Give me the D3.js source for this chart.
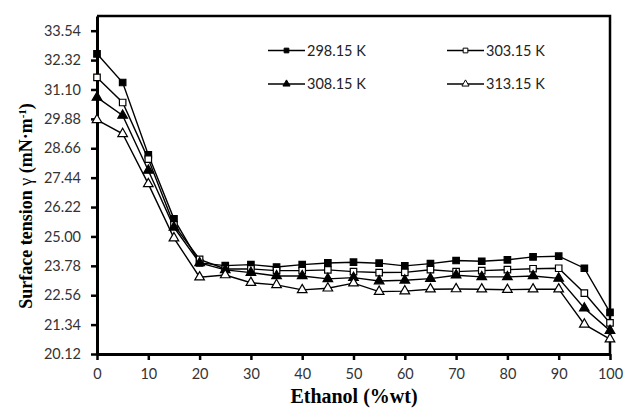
<!DOCTYPE html>
<html>
<head>
<meta charset="utf-8">
<script src="https://cdn.jsdelivr.net/npm/d3@7"></script>
<style>
  body { margin: 0; background: #fff; }
  svg { display: block; }
</style>
</head>
<body>
<svg id="chart" width="626" height="410"></svg>
<script>
// ethanol mass fraction (%wt)
const ethanol = [0, 5, 10, 15, 20, 25, 30, 35, 40, 45, 50, 55, 60, 65, 70, 75, 80, 85, 90, 95, 100];

// surface tension (mN/m)
const t29815 = [32.58, 31.39, 28.39, 25.73, 23.90, 23.79, 23.83, 23.73, 23.83, 23.90, 23.93, 23.89, 23.78, 23.87, 24.00, 23.97, 24.03, 24.15, 24.18, 23.68, 21.85];
const t30315 = [31.60, 30.56, 28.21, 25.48, 24.05, 23.65, 23.65, 23.58, 23.58, 23.61, 23.54, 23.50, 23.51, 23.62, 23.54, 23.58, 23.62, 23.66, 23.68, 22.65, 21.41];
const t30815 = [30.77, 30.02, 27.74, 25.38, 23.90, 23.61, 23.50, 23.36, 23.36, 23.24, 23.29, 23.15, 23.18, 23.25, 23.39, 23.32, 23.32, 23.36, 23.26, 22.02, 21.09];
const t31315 = [29.84, 29.26, 27.18, 24.93, 23.31, 23.40, 23.08, 22.99, 22.78, 22.85, 23.06, 22.71, 22.73, 22.81, 22.82, 22.81, 22.79, 22.81, 22.81, 21.35, 20.74];

const yTicks = [20.12, 21.34, 22.56, 23.78, 25.00, 26.22, 27.44, 28.66, 29.88, 31.10, 32.32, 33.54];
const xTicks = [0, 10, 20, 30, 40, 50, 60, 70, 80, 90, 100];

const series = [
  { name: '298.15 K', values: t29815, shape: d3.symbolSquare, filled: true },
  { name: '303.15 K', values: t30315, shape: d3.symbolSquare, filled: false },
  { name: '308.15 K', values: t30815, shape: d3.symbolTriangle, filled: true },
  { name: '313.15 K', values: t31315, shape: d3.symbolTriangle, filled: false }
];

const svg = d3.select('#chart');
const margin = { top: 16, right: 16, bottom: 56, left: 97 };
const width = 626 - margin.left - margin.right;
const height = 410 - margin.top - margin.bottom;

const x = d3.scaleLinear().domain([0, 100]).range([0, width]);
const y = d3.scaleLinear().domain([20.12, 34.15]).range([height, 0]);

const g = svg.append('g').attr('transform', `translate(${margin.left},${margin.top})`);

// top and right frame
g.append('path')
  .attr('d', `M0,0H${width}V${height}`)
  .attr('fill', 'none')
  .attr('stroke', '#000')
  .attr('stroke-width', 2.5);

const tickFont = 'Lato, "Open Sans", sans-serif';

const yAxis = g.append('g')
  .call(d3.axisLeft(y).tickValues(yTicks).tickFormat(d3.format('.2f')).tickSize(6).tickSizeOuter(0));
yAxis.select('.domain').attr('stroke-width', 3);
yAxis.selectAll('.tick line').attr('stroke-width', 2.5);
yAxis.selectAll('.tick text')
  .attr('x', -16)
  .style('font-family', tickFont)
  .style('font-size', '14.5px')
  .attr('fill', '#333');

const xAxis = g.append('g')
  .attr('transform', `translate(0,${height})`)
  .call(d3.axisBottom(x).tickValues(xTicks).tickSize(6).tickSizeOuter(0));
xAxis.select('.domain').attr('stroke-width', 3);
xAxis.selectAll('.tick line').attr('stroke-width', 2.5);
xAxis.selectAll('.tick text')
  .attr('y', 15)
  .style('font-family', tickFont)
  .style('font-size', '14.5px')
  .attr('fill', '#333');

const line = d3.line()
  .x((d, i) => x(ethanol[i]))
  .y(d => y(d));

series.forEach(s => {
  g.append('path')
    .datum(s.values)
    .attr('d', line)
    .attr('fill', 'none')
    .attr('stroke', '#000')
    .attr('stroke-width', 1.4);
});

series.forEach(s => {
  const sym = d3.symbol().type(s.shape).size(s.shape === d3.symbolSquare ? 42 : 40);
  g.selectAll(null)
    .data(s.values)
    .enter().append('path')
    .attr('d', sym)
    .attr('transform', (d, i) => `translate(${x(ethanol[i])},${y(d)})`)
    .attr('fill', s.filled ? '#000' : '#fff')
    .attr('stroke', '#000')
    .attr('stroke-width', 1.2);
});

// legend
const legendPos = [[268, 50.5], [447, 50.5], [268, 84], [447, 84]];
series.forEach((s, i) => {
  const [lx, ly] = legendPos[i];
  const lg = svg.append('g').attr('transform', `translate(${lx},${ly})`);
  lg.append('line')
    .attr('x1', 0).attr('x2', 37)
    .attr('stroke', '#000').attr('stroke-width', 1.4);
  lg.append('path')
    .attr('d', d3.symbol().type(s.shape).size(22)())
    .attr('transform', 'translate(18.5,0)')
    .attr('fill', s.filled ? '#000' : '#fff')
    .attr('stroke', '#000')
    .attr('stroke-width', 1);
  lg.append('text')
    .attr('x', 39)
    .attr('dy', '0.35em')
    .style('font-family', tickFont)
    .style('font-size', '14.5px')
    .attr('fill', '#222')
    .text(s.name);
});

// axis titles
svg.append('text')
  .attr('x', 354)
  .attr('y', 403)
  .attr('text-anchor', 'middle')
  .style('font-family', '"Liberation Serif", "Times New Roman", serif')
  .style('font-weight', 'bold')
  .style('font-size', '20px')
  .text('Ethanol (%wt)');

const yTitle = svg.append('text')
  .attr('transform', 'translate(32,206) rotate(-90)')
  .attr('text-anchor', 'middle')
  .style('font-family', '"Liberation Serif", "Times New Roman", serif')
  .style('font-weight', 'bold')
  .style('font-size', '18px');
yTitle.append('tspan').text('Surface tension ');
yTitle.append('tspan').style('font-weight', 'normal').text('γ');
yTitle.append('tspan').text(' (mN·m');
yTitle.append('tspan').attr('dy', -6).style('font-size', '11px').text('-1');
yTitle.append('tspan').attr('dy', 6).text(')');
</script>
</body>
</html>
